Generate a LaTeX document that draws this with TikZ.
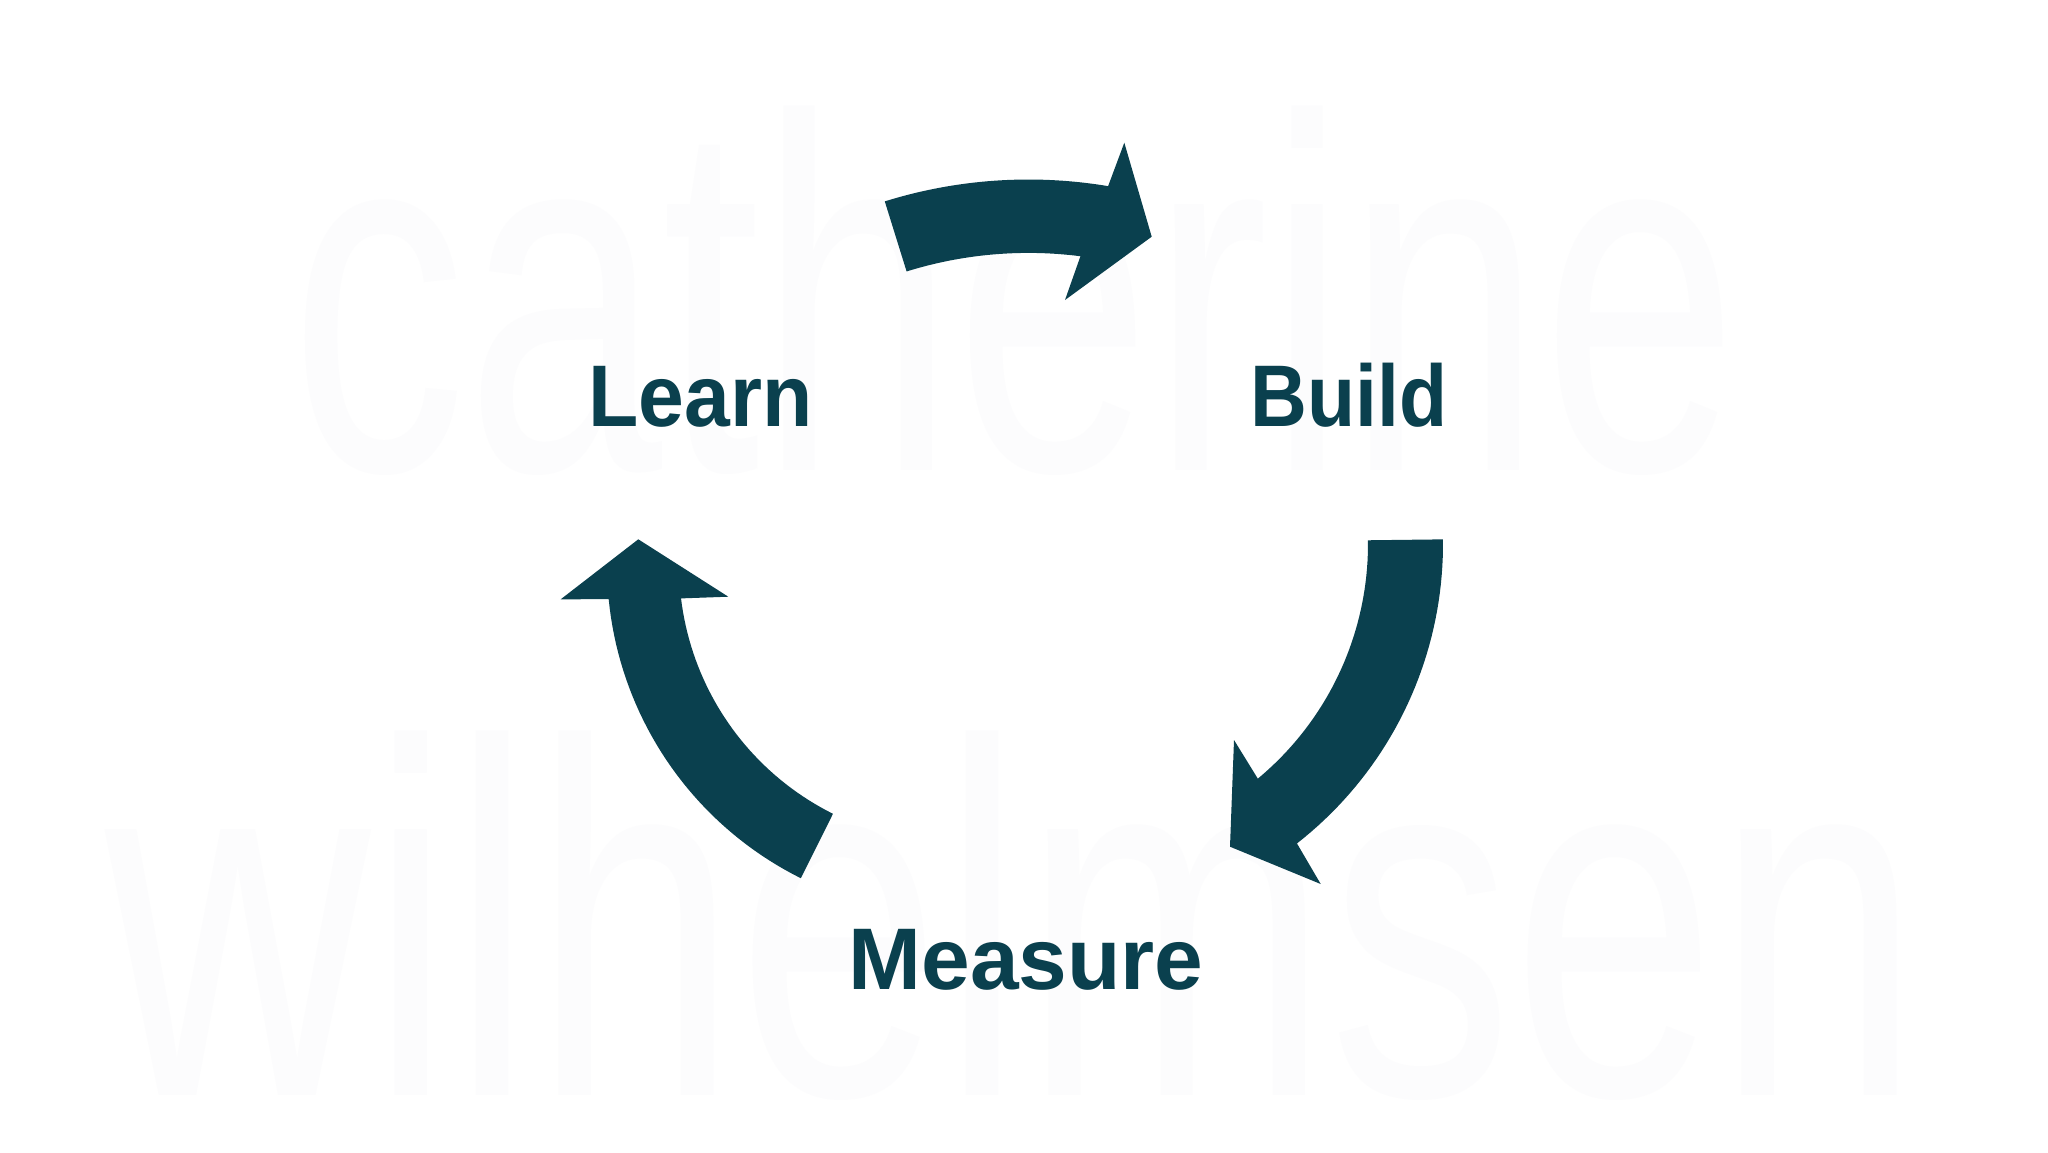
\documentclass[tikz,border=0pt]{standalone}
\usepackage{fontspec}
\newfontfamily\lblfont{Liberation Sans}
\newfontfamily\wmfont{Liberation Sans}
\definecolor{arrowcol}{RGB}{10,64,78}
\definecolor{wmcol}{RGB}{252,252,253}
\begin{document}
\begin{tikzpicture}[x=1pt,y=-1pt,
  lbl/.style={anchor=base, inner sep=0pt, text=arrowcol,
    font=\lblfont\bfseries\fontsize{87.5}{90}\selectfont},
  wm/.style={anchor=base west, inner sep=0pt, text=wmcol,
    font=\wmfont\fontsize{503}{510}\selectfont},
  arrowshape/.style={fill=arrowcol, draw=none}]
\useasboundingbox (0,0) rectangle (2048,1152);
\fill[white] (0,0) rectangle (2048,1152);

% faint watermark
\node[wm] (wmtop) at (290,470) {\scalebox{0.7}[1]{catherine}};
\node[wm] (wmbot) at (105,1095) {\scalebox{0.73}[1]{wilhelmsen}};

% labels
\node[lbl] (learn) at (700.5,426) {\scalebox{0.94}[1]{Learn}};
\node[lbl] (build) at (1349,426) {\scalebox{0.9}[1]{Build}};
\node[lbl] (measure) at (1026,989) {Measure};

% top arrow: Learn -> Build
\fill[arrowshape]
  plot[domain=-107.3:-80.5, samples=40] ({1028.4+483*cos(\x)},{662.5+483*sin(\x)})
  -- (1124.3,142.7) -- (1151.7,236.7) -- (1065,300)
  -- plot[domain=-82.7:-107.3, samples=40] ({1028.4+409.6*cos(\x)},{662.5+409.6*sin(\x)})
  -- cycle;

% right arrow: Build -> Measure
\fill[arrowshape]
  plot[domain=-0.7:52, samples=40] ({1063+380*cos(\x)},{544+380*sin(\x)})
  -- (1320.7,884) -- (1230,846.7) -- (1234,740)
  -- plot[domain=50.3:-0.7, samples=40] ({1063+305*cos(\x)},{544+305*sin(\x)})
  -- cycle;

% left arrow: Measure -> Learn
\fill[arrowshape]
  plot[domain=116.5:174.4, samples=40] ({957+350*cos(\x)},{565+350*sin(\x)})
  -- (560.7,599.3) -- (638.3,539.3) -- (728.3,596.7)
  -- plot[domain=173.1:116.5, samples=40] ({957+278*cos(\x)},{565+278*sin(\x)})
  -- cycle;
\end{tikzpicture}
\end{document}
